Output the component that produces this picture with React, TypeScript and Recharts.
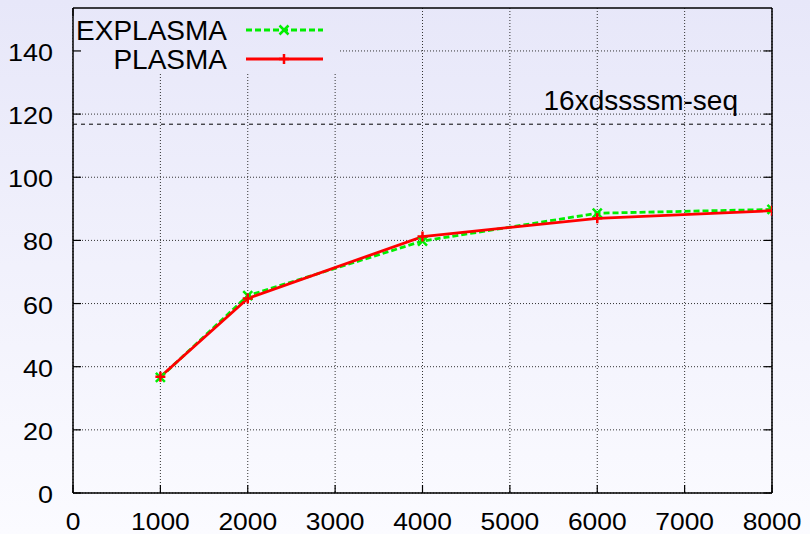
import React from "react";
import {
  LineChart,
  Line,
  XAxis,
  YAxis,
  CartesianGrid,
  ReferenceLine,
  ReferenceArea,
  Legend,
} from "recharts";

// Problem sizes on the x axis
const sizes = [1000, 2000, 4000, 6000, 8000];
// Throughput of each implementation at those sizes
const explasmaValues = [36.6, 62.5, 79.8, 88.6, 89.8];
const plasmaValues = [36.8, 61.6, 81.2, 87.0, 89.4];

const xTicks = [0, 1000, 2000, 3000, 4000, 5000, 6000, 7000, 8000];
const yTicks = [0, 20, 40, 60, 80, 100, 120, 140];
const yMax = 153.6;

// Sequential reference level
const seqLevel = 116.8;
const seqLabel = "16xdssssm-seq";

// Region reserved for the key (drawn over the grid)
const keyBoxX = [0, 3056];
const keyBoxY = [133.3, yMax];

const data = sizes.map((n, i) => ({
  n,
  explasma: explasmaValues[i],
  plasma: plasmaValues[i],
}));

const FONT = "'Liberation Sans', Arial, Helvetica, sans-serif";
const W = 810;
const H = 534;
const TICK_LEN = 8;

const LeftTick = (p: any) => {
  const { x, y, payload } = p;
  return (
    <g>
      <line x1={x} y1={y} x2={x + TICK_LEN} y2={y} stroke="#000" strokeWidth={1.2} />
      <text
        transform={`translate(${x - 20},${y + 10}) scale(1.1,1)`}
        textAnchor="end"
        fontFamily={FONT}
        fontSize={24.5}
        fill="#000"
      >
        {payload.value}
      </text>
    </g>
  );
};

const BottomTick = (p: any) => {
  const { x, y, payload } = p;
  return (
    <g>
      <line x1={x} y1={y} x2={x} y2={y - TICK_LEN} stroke="#000" strokeWidth={1.2} />
      <text
        transform={`translate(${x},${y + 36.5}) scale(1.1,1)`}
        textAnchor="middle"
        fontFamily={FONT}
        fontSize={24}
        fill="#000"
      >
        {payload.value}
      </text>
    </g>
  );
};

const TopTick = (p: any) => {
  const { x, y } = p;
  return <line x1={x} y1={y} x2={x} y2={y + TICK_LEN} stroke="#000" strokeWidth={1.2} />;
};

const RightTick = (p: any) => {
  const { x, y } = p;
  return <line x1={x - TICK_LEN} y1={y} x2={x} y2={y} stroke="#000" strokeWidth={1.2} />;
};

const CrossDot = (p: any) => {
  const { cx, cy, stroke, index } = p;
  const r = 4.5;
  return (
    <path
      key={`x-${index}`}
      d={`M${cx - r},${cy - r}L${cx + r},${cy + r}M${cx - r},${cy + r}L${cx + r},${cy - r}`}
      stroke={stroke}
      strokeWidth={2.5}
      fill="none"
    />
  );
};

const PlusDot = (p: any) => {
  const { cx, cy, stroke, index } = p;
  const r = 5;
  return (
    <path
      key={`p-${index}`}
      d={`M${cx - r},${cy}L${cx + r},${cy}M${cx},${cy - r}L${cx},${cy + r}`}
      stroke={stroke}
      strokeWidth={2.5}
      fill="none"
    />
  );
};

const KeyContent = (props: any) => {
  const items = props.payload || [];
  return (
    <svg width={270} height={64} style={{ display: "block", overflow: "visible" }}>
      {items.map((it: any, i: number) => {
        const cy = 22 + i * 29;
        const dashed = it.payload && it.payload.strokeDasharray;
        return (
          <g key={it.value}>
            <text
              x={154}
              y={cy + 10}
              textAnchor="end"
              fontFamily={FONT}
              fontSize={28}
              fill="#000"
            >
              {it.value}
            </text>
            <line
              x1={173}
              y1={cy}
              x2={250}
              y2={cy}
              stroke={it.color}
              strokeWidth={2.8}
              strokeDasharray={dashed}
            />
            {i === 0 ? (
              <CrossDot cx={211} cy={cy} stroke={it.color} index={0} />
            ) : (
              <PlusDot cx={211} cy={cy} stroke={it.color} index={0} />
            )}
          </g>
        );
      })}
    </svg>
  );
};

const SeqLabel = (p: any) => {
  const vb = p.viewBox || {};
  return (
    <text
      x={vb.x + vb.width - 34}
      y={vb.y - 14}
      textAnchor="end"
      fontFamily={FONT}
      fontSize={28}
      fill="#000"
    >
      {seqLabel}
    </text>
  );
};

export default function App() {
  return (
    <div
      style={{
        position: "absolute",
        left: 0,
        top: 0,
        width: W,
        height: H,
        background: "linear-gradient(to bottom, #e7e7f9 0%, #fbfbff 100%)",
      }}
    >
      <svg width={0} height={0} style={{ position: "absolute" }}>
        <defs>
          <linearGradient id="pageBg" gradientUnits="userSpaceOnUse" x1={0} y1={0} x2={0} y2={H}>
            <stop offset="0%" stopColor="#e7e7f9" />
            <stop offset="100%" stopColor="#fbfbff" />
          </linearGradient>
        </defs>
      </svg>
      <LineChart
        width={W}
        height={H}
        data={data}
        margin={{ top: 0, right: 0, bottom: 0, left: 0 }}
      >
        <CartesianGrid
          stroke="#333"
          strokeWidth={1}
          strokeDasharray="1 2"
          verticalValues={xTicks}
          horizontalValues={yTicks}
        />
        <ReferenceArea
          x1={keyBoxX[0]}
          x2={keyBoxX[1]}
          y1={keyBoxY[0]}
          y2={keyBoxY[1]}
          fill="url(#pageBg)"
          fillOpacity={1}
          stroke="none"
          ifOverflow="visible"
        />
        <ReferenceLine
          y={seqLevel}
          stroke="#000"
          strokeWidth={1}
          strokeDasharray="4 4"
          label={SeqLabel}
        />
        <XAxis
          dataKey="n"
          type="number"
          domain={[0, 8000]}
          ticks={xTicks}
          interval={0}
          allowDataOverflow
          height={41}
          tickSize={0}
          tickMargin={0}
          tickLine={false}
          axisLine={{ stroke: "#000", strokeWidth: 1.5 }}
          tick={BottomTick}
        />
        <XAxis
          xAxisId="top"
          orientation="top"
          type="number"
          domain={[0, 8000]}
          ticks={xTicks}
          interval={0}
          allowDataOverflow
          height={8}
          tickSize={0}
          tickMargin={0}
          tickLine={false}
          axisLine={{ stroke: "#000", strokeWidth: 1.5 }}
          tick={TopTick}
        />
        <YAxis
          type="number"
          domain={[0, yMax]}
          ticks={yTicks}
          interval={0}
          allowDataOverflow
          width={73}
          tickSize={0}
          tickMargin={0}
          tickLine={false}
          axisLine={{ stroke: "#000", strokeWidth: 1.5 }}
          tick={LeftTick}
        />
        <YAxis
          yAxisId="right"
          orientation="right"
          type="number"
          domain={[0, yMax]}
          ticks={yTicks}
          interval={0}
          allowDataOverflow
          width={38}
          tickSize={0}
          tickMargin={0}
          tickLine={false}
          axisLine={{ stroke: "#000", strokeWidth: 1.5 }}
          tick={RightTick}
        />
        <Line
          type="linear"
          dataKey="explasma"
          name="EXPLASMA"
          stroke="#00ee00"
          strokeWidth={2.8}
          strokeDasharray="6 3"
          dot={CrossDot}
          activeDot={false}
          isAnimationActive={false}
        />
        <Line
          type="linear"
          dataKey="plasma"
          name="PLASMA"
          stroke="#ff0000"
          strokeWidth={2.8}
          dot={PlusDot}
          activeDot={false}
          isAnimationActive={false}
        />
        <Legend
          layout="vertical"
          align="center"
          verticalAlign="middle"
          wrapperStyle={{ left: 73, top: 8, width: 270, height: 64 }}
          content={KeyContent}
        />
      </LineChart>
    </div>
  );
}
